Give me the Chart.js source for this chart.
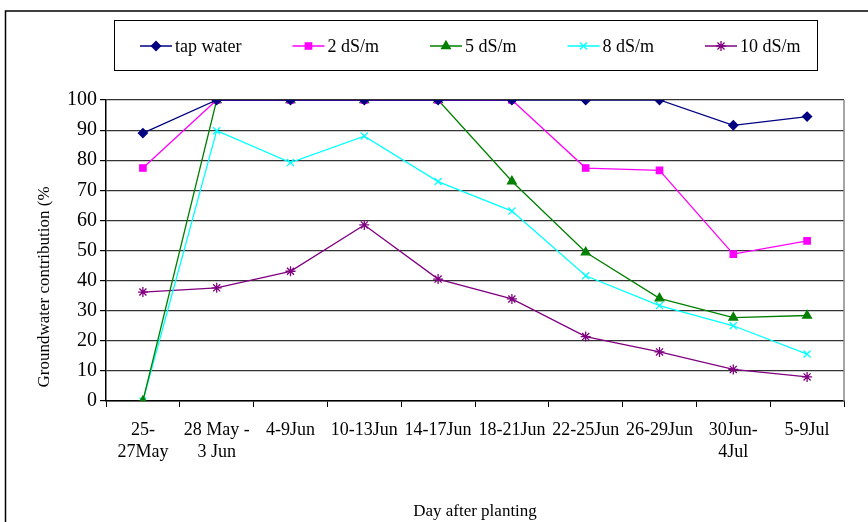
<!DOCTYPE html>
<html>
<head>
<meta charset="utf-8">
<script src="https://cdn.jsdelivr.net/npm/chart.js@4/dist/chart.umd.min.js"></script>
<style>
  html, body { margin: 0; padding: 0; background: #fff; }
  #wrap { width: 868px; height: 522px; position: relative; }
</style>
</head>
<body>
<div id="wrap"><canvas id="chart" width="868" height="522"></canvas></div>
<script>
// Chart data
const periods = [
  ['25-', '27May'], ['28 May -', '3 Jun'], '4-9Jun', '10-13Jun', '14-17Jun',
  '18-21Jun', '22-25Jun', '26-29Jun', ['30Jun-', '4Jul'], '5-9Jul'
];
const tapWater = [89, 100, 100, 100, 100, 100, 100, 100, 91.6, 94.5];
const ec2 = [77.4, 100, 100, 100, 100, 100, 77.4, 76.6, 48.8, 53.2];
const ec5 = [0, 100, 100, 100, 100, 73, 49.4, 34.1, 27.7, 28.4];
const ec8 = [0, 89.8, 79.2, 88, 72.9, 63.1, 41.6, 31.7, 25, 15.6];
const ec10 = [36.2, 37.6, 43.1, 58.5, 40.5, 33.9, 21.4, 16.3, 10.5, 8];
const yTicks = [0, 10, 20, 30, 40, 50, 60, 70, 80, 90, 100];
const yTitle = 'Groundwater contribution (%';

const serif = '"Liberation Serif", "Times New Roman", serif';

function series(label, data, color, style, radius) {
  return {
    label: label,
    data: data,
    borderColor: color,
    backgroundColor: color,
    pointBorderColor: color,
    pointBackgroundColor: color,
    borderWidth: 1.3,
    pointStyle: style,
    pointRadius: radius,
    pointBorderWidth: 1.3,
    tension: 0,
    fill: false
  };
}

// Frame, plot border, y title and boxed legend (line + marker like the original)
const framePlugin = {
  id: 'frame',
  afterDraw(chart) {
    const ctx = chart.ctx;
    const area = chart.chartArea;
    ctx.save();
    // outer frame
    ctx.strokeStyle = '#000';
    ctx.lineWidth = 1.5;
    ctx.beginPath();
    ctx.moveTo(5.5, 522);
    ctx.lineTo(5.5, 11);
    ctx.lineTo(868, 11);
    ctx.stroke();
    // right edge of plot area
    ctx.strokeStyle = '#888';
    ctx.lineWidth = 1.5;
    ctx.beginPath();
    ctx.moveTo(area.right, area.top);
    ctx.lineTo(area.right, area.bottom);
    ctx.stroke();

    // y axis title
    ctx.save();
    ctx.translate(45, 287);
    ctx.rotate(-Math.PI / 2);
    ctx.font = '17px ' + serif;
    ctx.textAlign = 'center';
    ctx.textBaseline = 'middle';
    ctx.fillStyle = '#000';
    ctx.fillText(yTitle, 0, 0);
    ctx.restore();

    // legend box
    ctx.strokeStyle = '#000';
    ctx.lineWidth = 1;
    ctx.strokeRect(114.5, 20.5, 703, 50);
    ctx.font = '18px ' + serif;
    ctx.textBaseline = 'middle';
    let x = 140;
    const y = 46;
    chart.data.datasets.forEach(ds => {
      ctx.strokeStyle = ds.borderColor;
      ctx.lineWidth = 1.5;
      ctx.beginPath();
      ctx.moveTo(x, y);
      ctx.lineTo(x + 32, y);
      ctx.stroke();
      ctx.save();
      ctx.strokeStyle = ds.borderColor;
      ctx.fillStyle = ds.backgroundColor;
      ctx.lineWidth = 1.3;
      Chart.helpers.drawPoint(ctx, {
        pointStyle: ds.pointStyle,
        radius: ds.pointRadius,
        borderWidth: 1.3
      }, x + 16, y);
      ctx.restore();
      ctx.fillStyle = '#000';
      ctx.fillText(ds.label, x + 35, y + 1);
      x += 35 + ctx.measureText(ds.label).width + 51;
    });
    ctx.restore();
  }
};

new Chart(document.getElementById('chart'), {
  type: 'line',
  data: {
    labels: periods,
    datasets: [
      series('tap water', tapWater, '#000080', 'rectRot', 4.5),
      series('2 dS/m', ec2, '#FF00FF', 'rect', 4.5),
      series('5 dS/m', ec5, '#008000', 'triangle', 5),
      series('8 dS/m', ec8, '#00FFFF', 'crossRot', 5),
      series('10 dS/m', ec10, '#800080', 'star', 5)
    ]
  },
  options: {
    responsive: false,
    animation: false,
    events: [],
    layout: { padding: { left: 0, right: 24, top: 100, bottom: 0 } },
    plugins: {
      legend: { display: false },
      tooltip: { enabled: false }
    },
    scales: {
      x: {
        offset: true,
        grid: {
          offset: true,
          drawOnChartArea: false,
          drawTicks: true,
          tickLength: 6,
          color: '#000'
        },
        border: { color: '#000', width: 1.5 },
        ticks: {
          color: '#000',
          font: { family: serif, size: 18, lineHeight: 1.25 },
          padding: 12,
          maxRotation: 0,
          autoSkip: false
        },
        title: {
          display: true,
          text: 'Day after planting',
          color: '#000',
          font: { family: serif, size: 17 },
          padding: { top: 0, bottom: 0 }
        },
        afterFit(scale) { scale.height = 121; }
      },
      y: {
        min: 0,
        max: 100,
        afterBuildTicks(scale) { scale.ticks = yTicks.map(v => ({ value: v })); },
        grid: {
          color: '#333',
          lineWidth: 1.2,
          tickLength: 6,
          tickColor: '#000'
        },
        border: { color: '#000', width: 1.5 },
        ticks: {
          color: '#000',
          font: { family: serif, size: 20 },
          padding: 3
        },
        afterFit(scale) { scale.width = 106; }
      }
    }
  },
  plugins: [framePlugin]
});
</script>
</body>
</html>
